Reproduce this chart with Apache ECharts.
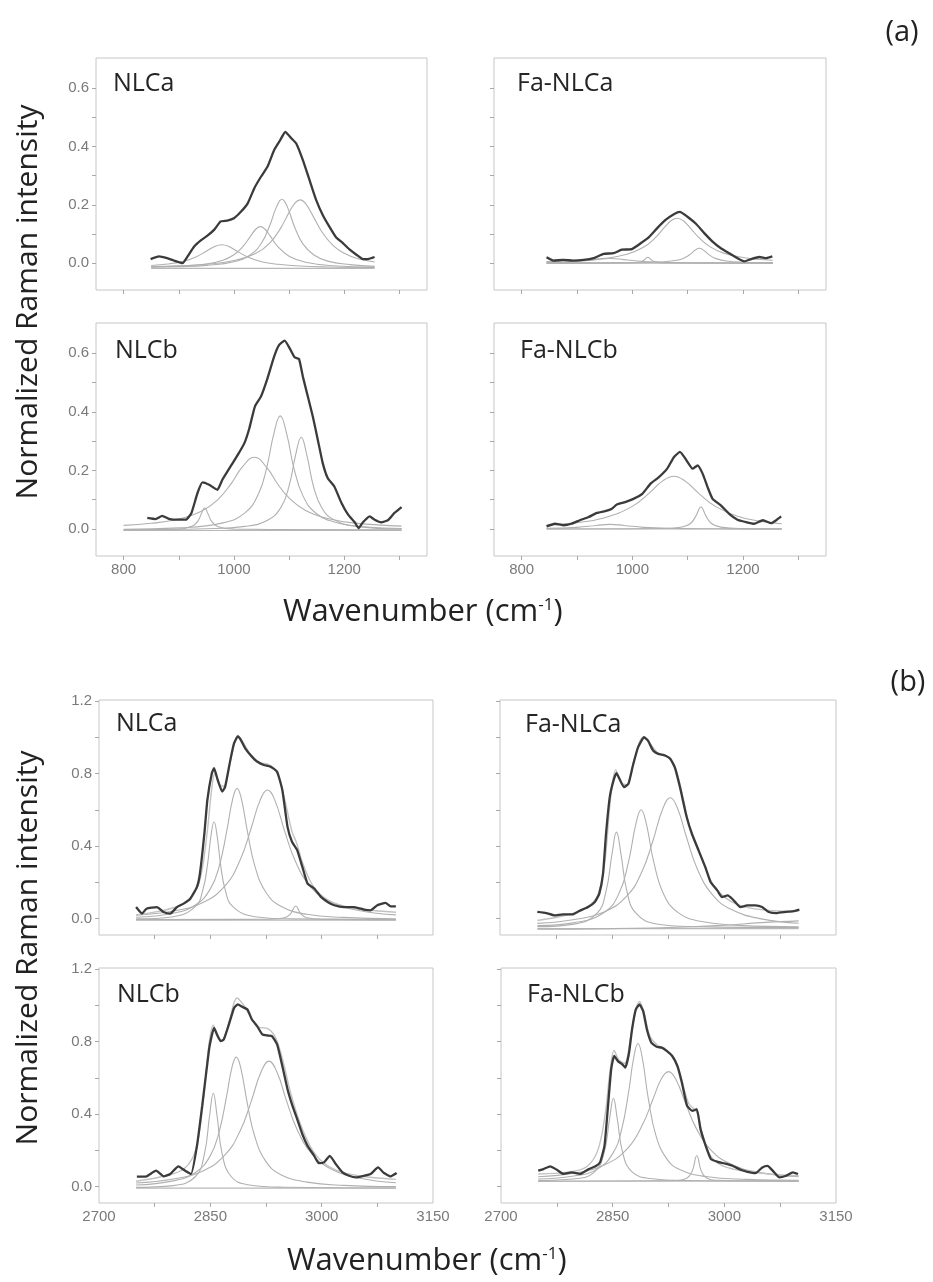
<!DOCTYPE html>
<html><head><meta charset="utf-8">
<script src="https://cdn.jsdelivr.net/npm/echarts@6/dist/echarts.min.js"></script>
<style>html,body{margin:0;padding:0;background:#fff}#c{width:933px;height:1282px}</style>
</head><body><div id="c"></div>
<script>
// ---------------- DATA ----------------
// Axis ticks / labels
const A_X_TICKS = [800, 900, 1000, 1100, 1200, 1300];
const A_X_LABELS = [800, 1000, 1200];
const A_Y_TICKS = [0, 0.1, 0.2, 0.3, 0.4, 0.5, 0.6];
const A_Y_LABELS = [0, 0.2, 0.4, 0.6];
const B_X_TICKS = [2775, 2850, 2925, 3000, 3075];
const B_X_LABELS = [2700, 2850, 3000, 3150];
const B_Y_TICKS = [0, 0.2, 0.4, 0.6, 0.8, 1.0, 1.2];
const B_Y_LABELS = [0, 0.4, 0.8, 1.2];
const PANEL_NAMES = ['NLCa', 'Fa-NLCa', 'NLCb', 'Fa-NLCb', 'NLCa', 'Fa-NLCa', 'NLCb', 'Fa-NLCb'];

// (a) NLCa
const A1_MEAS = [[849,0.014],[864,0.023],[879,0.017],[891,0.009],[907,0.0],[916,0.023],[928,0.057],[940,0.078],[952,0.094],[964,0.114],[976,0.143],[988,0.146],[1000,0.154],[1013,0.177],[1025,0.205],[1037,0.257],[1049,0.296],[1061,0.331],[1073,0.388],[1084,0.422],[1093,0.450],[1104,0.428],[1113,0.410],[1125,0.353],[1137,0.285],[1149,0.217],[1161,0.165],[1173,0.125],[1185,0.089],[1198,0.068],[1210,0.046],[1222,0.029],[1234,0.014],[1243,0.014],[1255,0.021]];
const A1_C1 = [[850,-0.008],[880,-0.003],[910,0.007],[930,0.020],[950,0.041],[965,0.057],[978,0.063],[990,0.058],[1005,0.042],[1025,0.021],[1050,0.005],[1080,-0.004],[1120,-0.010],[1170,-0.013],[1255,-0.015]];
const A1_C2 = [[850,-0.013],[900,-0.010],[950,-0.003],[980,0.010],[1000,0.029],[1015,0.054],[1030,0.092],[1040,0.117],[1048,0.125],[1056,0.117],[1065,0.095],[1080,0.056],[1100,0.024],[1130,0.003],[1180,-0.009],[1255,-0.0135]];
const A1_C3 = [[850,-0.014],[900,-0.012],[950,-0.0075],[1000,0.005],[1030,0.029],[1050,0.069],[1065,0.129],[1077,0.192],[1087,0.219],[1097,0.192],[1110,0.124],[1125,0.066],[1145,0.028],[1170,0.007],[1210,-0.005],[1255,-0.011]];
const A1_C4 = [[850,-0.0115],[900,-0.009],[950,-0.004],[1000,0.009],[1040,0.034],[1065,0.069],[1085,0.121],[1100,0.174],[1110,0.204],[1120,0.217],[1130,0.204],[1145,0.156],[1160,0.106],[1180,0.060],[1200,0.034],[1225,0.015],[1255,0.004]];
const A1_BASE = [[850,-0.018],[1255,-0.018]];

// (a) Fa-NLCa
const A2_MEAS = [[845,0.020],[857,0.009],[875,0.011],[893,0.009],[912,0.011],[930,0.017],[948,0.032],[966,0.034],[981,0.046],[999,0.048],[1015,0.068],[1030,0.089],[1045,0.120],[1060,0.148],[1075,0.168],[1086,0.176],[1099,0.160],[1115,0.135],[1130,0.103],[1145,0.074],[1160,0.051],[1175,0.034],[1190,0.017],[1202,0.006],[1215,0.014],[1230,0.021],[1242,0.017],[1253,0.023]];
const A2_C1 = [[845,0.0054],[900,0.009],[950,0.0163],[990,0.0303],[1020,0.0542],[1040,0.0842],[1060,0.1265],[1070,0.1453],[1081,0.154],[1092,0.1453],[1105,0.120],[1120,0.088],[1140,0.0566],[1165,0.0344],[1200,0.0193],[1254,0.0097]];
const A2_C2 = [[845,0],[1000,0.0014],[1050,0.0038],[1080,0.0098],[1095,0.019],[1105,0.031],[1113,0.044],[1121,0.051],[1129,0.044],[1137,0.031],[1150,0.0164],[1170,0.0073],[1200,0.0031],[1254,0.0011]];
const A2_C3 = [[845,0],[1000,0.0012],[1015,0.0045],[1022,0.0116],[1028,0.02],[1034,0.0116],[1041,0.0045],[1060,0.0009],[1254,0]];
const A2_C4 = [[845,0.0021],[900,0.0058],[935,0.0122],[960,0.016],[985,0.0122],[1020,0.0058],[1070,0.0023],[1150,0.0009],[1254,0.0003]];
const A2_BASE = [[845,0],[1254,0]];

// (a) NLCb
const A3_MEAS = [[843,0.038],[858,0.034],[870,0.045],[882,0.035],[898,0.032],[913,0.032],[923,0.055],[934,0.123],[943,0.159],[955,0.151],[970,0.134],[979,0.168],[995,0.217],[1007,0.253],[1019,0.293],[1028,0.344],[1038,0.418],[1049,0.452],[1061,0.515],[1073,0.589],[1082,0.628],[1092,0.643],[1101,0.617],[1110,0.586],[1118,0.580],[1125,0.520],[1134,0.452],[1143,0.384],[1152,0.305],[1161,0.225],[1170,0.174],[1182,0.145],[1195,0.089],[1207,0.049],[1219,0.023],[1226,0.003],[1234,0.023],[1246,0.043],[1255,0.032],[1267,0.023],[1279,0.030],[1291,0.055],[1304,0.075]];
const A3_C1 = [[800,-0.003],[900,0.000],[925,0.010],[935,0.028],[941,0.052],[947,0.072],[953,0.052],[959,0.028],[970,0.009],[1000,-0.0004],[1304,-0.003]];
const A3_C2 = [[800,0.0125],[850,0.0195],[900,0.034],[940,0.0596],[970,0.0988],[995,0.155],[1015,0.211],[1037,0.245],[1060,0.2085],[1080,0.152],[1100,0.106],[1130,0.0635],[1170,0.0358],[1220,0.0203],[1304,0.010]];
const A3_C3 = [[800,-0.0005],[900,0.004],[980,0.021],[1020,0.055],[1045,0.122],[1060,0.214],[1072,0.322],[1084,0.386],[1096,0.322],[1108,0.214],[1125,0.114],[1150,0.052],[1190,0.020],[1240,0.007],[1304,0.002]];
const A3_C4 = [[800,-0.003],[950,0.001],[1020,0.009],[1060,0.029],[1085,0.073],[1100,0.147],[1112,0.254],[1122,0.313],[1132,0.254],[1145,0.140],[1160,0.070],[1180,0.033],[1220,0.010],[1304,0.000]];
const A3_BASE = [[800,-0.005],[1304,-0.005]];

// (a) Fa-NLCb
const A4_MEAS = [[845,0.009],[860,0.018],[875,0.013],[890,0.018],[905,0.030],[921,0.041],[936,0.055],[951,0.061],[963,0.069],[972,0.084],[987,0.092],[1002,0.103],[1018,0.120],[1033,0.155],[1048,0.177],[1063,0.206],[1075,0.245],[1086,0.263],[1096,0.240],[1109,0.206],[1118,0.217],[1127,0.189],[1136,0.143],[1145,0.103],[1160,0.081],[1175,0.052],[1190,0.032],[1205,0.024],[1220,0.018],[1236,0.030],[1251,0.020],[1260,0.030],[1269,0.043]];
const A4_C1 = [[845,0.0133],[900,0.0218],[950,0.0383],[1000,0.0773],[1030,0.1217],[1055,0.1644],[1075,0.18],[1095,0.1644],[1120,0.1217],[1150,0.0773],[1190,0.0436],[1230,0.0269],[1270,0.018]];
const A4_C2 = [[845,0.0001],[1050,0.0016],[1090,0.0071],[1105,0.0188],[1115,0.0449],[1124,0.075],[1133,0.0449],[1143,0.0188],[1160,0.0064],[1200,0.0015],[1270,0.0004]];
const A4_C3 = [[845,0.0021],[900,0.0058],[935,0.0122],[960,0.016],[985,0.0122],[1020,0.0058],[1070,0.0023],[1150,0.0009],[1270,0.0003]];
const A4_BASE = [[845,0],[1270,0]];

// (b) NLCa
const B1_MEAS = [[2750,0.064],[2758,0.028],[2764,0.055],[2778,0.064],[2787,0.037],[2796,0.028],[2805,0.064],[2814,0.083],[2823,0.110],[2832,0.175],[2836,0.249],[2842,0.470],[2846,0.654],[2852,0.801],[2855,0.829],[2860,0.764],[2866,0.700],[2870,0.727],[2877,0.875],[2882,0.967],[2887,1.004],[2891,0.985],[2897,0.939],[2906,0.893],[2913,0.866],[2922,0.847],[2931,0.838],[2940,0.810],[2947,0.709],[2954,0.506],[2960,0.424],[2967,0.378],[2974,0.285],[2981,0.193],[2990,0.166],[2999,0.120],[3008,0.092],[3017,0.074],[3030,0.064],[3044,0.064],[3057,0.050],[3066,0.046],[3075,0.074],[3086,0.087],[3093,0.068],[3100,0.068]];
const B1_ENV = [[2750,0.02],[2780,0.04],[2800,0.06],[2820,0.10],[2835,0.20],[2845,0.45],[2852,0.72],[2856,0.80],[2862,0.74],[2868,0.73],[2876,0.85],[2882,0.96],[2887,1.01],[2893,0.98],[2905,0.90],[2915,0.86],[2928,0.85],[2940,0.80],[2950,0.66],[2960,0.48],[2966,0.42],[2975,0.30],[2990,0.17],[3010,0.10],[3040,0.06],[3070,0.045],[3100,0.035]];
const B1_C1 = [[2750,-0.001],[2800,0.011],[2830,0.068],[2840,0.160],[2846,0.292],[2851,0.460],[2855,0.534],[2859,0.460],[2864,0.292],[2870,0.160],[2880,0.068],[2910,0.011],[2960,-0.001],[3100,-0.005]];
const B1_C2 = [[2750,0.008],[2800,0.030],[2830,0.075],[2850,0.164],[2862,0.290],[2872,0.480],[2880,0.658],[2886,0.718],[2892,0.658],[2900,0.480],[2910,0.290],[2925,0.144],[2945,0.068],[2980,0.024],[3030,0.007],[3100,-0.001]];
const B1_C3 = [[2750,0.019],[2800,0.042],[2840,0.089],[2870,0.182],[2890,0.322],[2905,0.498],[2917,0.652],[2927,0.709],[2937,0.652],[2950,0.484],[2965,0.312],[2985,0.177],[3010,0.097],[3050,0.045],[3100,0.021]];
const B1_C4 = [[2750,-0.005],[2930,-0.003],[2950,0.005],[2958,0.027],[2965,0.070],[2972,0.027],[2980,0.005],[3000,-0.003],[3100,-0.005]];
const B1_BASE = [[2750,-0.008],[3100,-0.008]];

// (b) Fa-NLCa
const B2_MEAS = [[2750,0.037],[2762,0.031],[2773,0.018],[2784,0.024],[2797,0.024],[2806,0.042],[2818,0.064],[2827,0.092],[2833,0.138],[2838,0.248],[2842,0.468],[2847,0.670],[2852,0.761],[2856,0.802],[2860,0.771],[2866,0.725],[2872,0.743],[2878,0.844],[2885,0.945],[2893,1.000],[2898,0.982],[2905,0.927],[2912,0.908],[2921,0.899],[2928,0.881],[2934,0.835],[2941,0.725],[2950,0.560],[2957,0.468],[2966,0.376],[2975,0.284],[2982,0.202],[2991,0.156],[2997,0.119],[3005,0.128],[3013,0.101],[3022,0.064],[3031,0.073],[3042,0.073],[3051,0.064],[3060,0.037],[3071,0.031],[3083,0.037],[3094,0.042],[3101,0.050]];
const B2_ENV = [[2750,-0.01],[2790,0.02],[2815,0.06],[2830,0.12],[2840,0.30],[2848,0.66],[2855,0.82],[2862,0.75],[2870,0.74],[2880,0.88],[2892,1.00],[2900,0.97],[2912,0.91],[2925,0.89],[2935,0.83],[2945,0.67],[2955,0.49],[2970,0.33],[2985,0.19],[3000,0.12],[3020,0.075],[3050,0.05],[3100,0.04]];
const B2_C1 = [[2750,-0.044],[2800,-0.030],[2830,0.030],[2842,0.151],[2850,0.356],[2856,0.477],[2862,0.356],[2870,0.151],[2882,0.030],[2910,-0.029],[2960,-0.044],[3100,-0.049]];
const B2_C2 = [[2750,-0.038],[2800,-0.022],[2840,0.035],[2860,0.145],[2872,0.311],[2882,0.522],[2889,0.600],[2896,0.522],[2906,0.311],[2920,0.128],[2940,0.029],[2970,-0.016],[3020,-0.037],[3100,-0.045]];
const B2_C3 = [[2750,-0.026],[2800,-0.005],[2840,0.038],[2870,0.125],[2890,0.258],[2905,0.432],[2918,0.606],[2928,0.666],[2938,0.606],[2950,0.446],[2965,0.267],[2985,0.130],[3010,0.050],[3050,-0.001],[3100,-0.025]];
const B2_C4 = [[2750,-0.058],[2850,-0.055],[2950,-0.046],[3000,-0.036],[3050,-0.022],[3100,-0.012]];
const B2_BASE = [[2750,-0.055],[3100,-0.055]];

// (b) NLCb
const B3_MEAS = [[2751,0.055],[2764,0.057],[2777,0.088],[2787,0.057],[2796,0.070],[2807,0.112],[2816,0.088],[2824,0.070],[2832,0.225],[2839,0.445],[2845,0.647],[2849,0.775],[2855,0.875],[2859,0.839],[2864,0.802],[2868,0.811],[2875,0.894],[2882,0.985],[2887,1.004],[2893,0.991],[2900,0.976],[2906,0.921],[2913,0.885],[2920,0.839],[2927,0.833],[2933,0.830],[2940,0.784],[2947,0.665],[2954,0.537],[2960,0.454],[2967,0.372],[2974,0.289],[2981,0.225],[2990,0.170],[2996,0.130],[3003,0.134],[3011,0.170],[3019,0.125],[3028,0.079],[3037,0.060],[3046,0.051],[3057,0.060],[3066,0.070],[3076,0.106],[3084,0.075],[3093,0.057],[3101,0.075]];
const B3_ENV = [[2750,0.03],[2790,0.06],[2815,0.10],[2830,0.20],[2840,0.45],[2848,0.78],[2854,0.89],[2860,0.82],[2866,0.80],[2876,0.92],[2886,1.04],[2895,1.00],[2905,0.93],[2915,0.88],[2928,0.87],[2938,0.82],[2948,0.69],[2958,0.52],[2970,0.36],[2985,0.22],[3000,0.14],[3020,0.09],[3050,0.06],[3100,0.04]];
const B3_C1 = [[2750,-0.004],[2800,0.006],[2830,0.056],[2842,0.180],[2849,0.392],[2854,0.515],[2859,0.392],[2866,0.180],[2878,0.056],[2900,0.011],[2950,-0.003],[3100,-0.007]];
const B3_C2 = [[2750,0.009],[2800,0.032],[2830,0.078],[2850,0.171],[2862,0.304],[2872,0.500],[2879,0.655],[2885,0.714],[2891,0.655],[2900,0.455],[2910,0.275],[2925,0.138],[2945,0.066],[2980,0.025],[3030,0.007],[3100,0.000]];
const B3_C3 = [[2750,0.020],[2800,0.042],[2840,0.087],[2870,0.176],[2890,0.306],[2905,0.469],[2918,0.629],[2929,0.692],[2940,0.629],[2952,0.481],[2967,0.314],[2987,0.180],[3012,0.099],[3050,0.048],[3100,0.022]];
const B3_BASE = [[2750,-0.008],[3100,-0.008]];

// (b) Fa-NLCb
const B4_MEAS = [[2750,0.088],[2757,0.097],[2766,0.112],[2775,0.093],[2784,0.070],[2795,0.079],[2806,0.070],[2818,0.097],[2827,0.112],[2833,0.134],[2839,0.225],[2843,0.408],[2848,0.647],[2852,0.720],[2857,0.692],[2863,0.674],[2867,0.656],[2872,0.738],[2876,0.866],[2881,0.976],[2886,1.004],[2891,0.967],[2896,0.866],[2902,0.793],[2909,0.771],[2916,0.766],[2923,0.747],[2930,0.720],[2937,0.665],[2943,0.573],[2950,0.445],[2957,0.418],[2963,0.427],[2968,0.317],[2975,0.225],[2982,0.152],[2991,0.137],[3000,0.128],[3011,0.115],[3022,0.093],[3031,0.082],[3042,0.075],[3051,0.106],[3058,0.115],[3067,0.079],[3074,0.051],[3083,0.060],[3092,0.079],[3099,0.070]];
const B4_ENV = [[2750,0.07],[2790,0.08],[2815,0.11],[2830,0.20],[2840,0.40],[2846,0.62],[2852,0.75],[2858,0.70],[2866,0.68],[2874,0.82],[2880,0.96],[2886,1.02],[2892,0.96],[2900,0.83],[2910,0.78],[2922,0.75],[2932,0.71],[2942,0.60],[2952,0.46],[2963,0.41],[2970,0.30],[2980,0.18],[2995,0.12],[3020,0.09],[3060,0.07],[3100,0.06]];
const B4_C1 = [[2750,0.034],[2800,0.044],[2825,0.079],[2838,0.178],[2846,0.379],[2851,0.487],[2856,0.379],[2864,0.178],[2876,0.082],[2900,0.045],[2950,0.034],[3100,0.031]];
const B4_C2 = [[2750,0.042],[2800,0.060],[2830,0.098],[2850,0.182],[2862,0.314],[2872,0.537],[2878,0.705],[2884,0.789],[2890,0.705],[2898,0.482],[2908,0.284],[2922,0.157],[2940,0.094],[2975,0.056],[3030,0.040],[3100,0.035]];
const B4_C3 = [[2750,0.055],[2800,0.076],[2840,0.122],[2870,0.211],[2890,0.341],[2905,0.491],[2915,0.591],[2925,0.634],[2935,0.591],[2948,0.459],[2962,0.324],[2982,0.202],[3010,0.122],[3050,0.076],[3100,0.055]];
const B4_C4 = [[2750,0.030],[2935,0.034],[2950,0.048],[2957,0.087],[2963,0.170],[2969,0.087],[2976,0.048],[2990,0.035],[3100,0.030]];
const B4_BASE = [[2750,0.030],[3100,0.030]];

// ---------------- LAYOUT ----------------
const panels = [
  {box:[96,58,331,232],  set:'a', yLab:true,  xLab:false, name:[113,84],  meas:A1_MEAS, env:null,   comps:[A1_C1,A1_C2,A1_C3,A1_C4], base:A1_BASE},
  {box:[494,58,332,232], set:'a', yLab:false, xLab:false, name:[517,84],  meas:A2_MEAS, env:null,   comps:[A2_C1,A2_C2,A2_C3,A2_C4], base:A2_BASE},
  {box:[96,323,331,233], set:'a', yLab:true,  xLab:true,  name:[115,351], meas:A3_MEAS, env:null,   comps:[A3_C1,A3_C2,A3_C3,A3_C4], base:A3_BASE},
  {box:[494,323,332,233],set:'a', yLab:false, xLab:true,  name:[520,351], meas:A4_MEAS, env:null,   comps:[A4_C1,A4_C2,A4_C3], base:A4_BASE},
  {box:[99,700,334,235], set:'b', yLab:true,  xLab:false, name:[116,724], meas:B1_MEAS, env:B1_ENV, comps:[B1_C1,B1_C2,B1_C3,B1_C4], base:B1_BASE},
  {box:[500,700,336,235],set:'b', yLab:false, xLab:false, name:[525,725], meas:B2_MEAS, env:B2_ENV, comps:[B2_C1,B2_C2,B2_C3,B2_C4], base:B2_BASE},
  {box:[99,968,334,235], set:'b', yLab:true,  xLab:true,  name:[117,995], meas:B3_MEAS, env:B3_ENV, comps:[B3_C1,B3_C2,B3_C3], base:B3_BASE},
  {box:[501,968,335,235],set:'b', yLab:false, xLab:true,  name:[527,995], meas:B4_MEAS, env:B4_ENV, comps:[B4_C1,B4_C2,B4_C3,B4_C4], base:B4_BASE}
];
const axisCfg = {
  a: {xmin:750, xmax:1350, ymin:-0.092, ymax:0.703, xt:A_X_TICKS, xl:A_X_LABELS, yt:A_Y_TICKS, yl:A_Y_LABELS},
  b: {xmin:2700, xmax:3150, ymin:-0.09, ymax:1.205, xt:B_X_TICKS, xl:B_X_LABELS, yt:B_Y_TICKS, yl:B_Y_LABELS}
};
const LABEL_FONT = {color:'#7a7a7a', fontSize:15, fontFamily:'"Liberation Sans", Arial, sans-serif'};
const grids = [], xAxes = [], yAxes = [], series = [], graphics = [];
panels.forEach((p, i) => {
  const c = axisCfg[p.set];
  grids.push({left:p.box[0], top:p.box[1], width:p.box[2], height:p.box[3], show:true, borderColor:'#c6c6c6', borderWidth:1, containLabel:false});
  xAxes.push({type:'value', gridIndex:i, min:c.xmin, max:c.xmax, position:'bottom',
    axisLine:{show:false, onZero:false}, splitLine:{show:false},
    axisTick:{show:true, inside:false, length:4, customValues:c.xt, lineStyle:{color:'#a8a8a8'}},
    axisLabel:{show:p.xLab, customValues:c.xl, margin:6, showMinLabel:true, showMaxLabel:true, formatter:v => String(v), ...LABEL_FONT}});
  yAxes.push({type:'value', gridIndex:i, min:c.ymin, max:c.ymax, position:'left',
    axisLine:{show:false, onZero:false}, splitLine:{show:false},
    axisTick:{show:true, inside:false, length:4, customValues:c.yt, lineStyle:{color:'#a8a8a8'}},
    axisLabel:{show:p.yLab, customValues:c.yl, margin:7, formatter:v => Number(v).toFixed(1), ...LABEL_FONT}});
  const mk = (data, color, width, smooth, z) => ({type:'line', xAxisIndex:i, yAxisIndex:i, data, symbol:'none', showSymbol:false,
    smooth, lineStyle:{color, width}, z, silent:true, animation:false});
  series.push(mk(p.base, '#b8b8b8', 1.1, false, 2));
  p.comps.forEach(cv => series.push(mk(cv, '#b0b0b0', 1.1, 0.45, 3)));
  if (p.env) series.push(mk(p.env, '#c2c2c2', 1.4, 0.35, 4));
  series.push(mk(p.meas, '#3b3b3b', 2.3, 0.15, 6));
  graphics.push({type:'text', x:p.name[0], y:p.name[1], silent:true,
    style:{text:PANEL_NAMES[i], fill:'#252525', font:'25px "Open Sans", sans-serif', textVerticalAlign:'middle', verticalAlign:'middle'}});
});
const TITLE_FONT = '30px "Open Sans", sans-serif';
[[28,302],[28,948]].forEach(([x,y]) => graphics.push({type:'text', x, y, rotation:Math.PI/2, silent:true,
  style:{text:'Normalized Raman intensity', fill:'#222', font:TITLE_FONT, textAlign:'center', align:'center', textVerticalAlign:'middle', verticalAlign:'middle'}}));
[['(a)',902,33],['(b)',908,683]].forEach(([t,x,y]) => graphics.push({type:'text', x, y, silent:true,
  style:{text:t, fill:'#222', font:'29px "Open Sans", sans-serif', textAlign:'center', align:'center', textVerticalAlign:'middle', verticalAlign:'middle'}}));
const richT = {t:{fontFamily:'"Open Sans", sans-serif', fontSize:31, fontWeight:'normal', color:'#222'}, s:{fontFamily:'"Open Sans", sans-serif', fontSize:17, fontWeight:'normal', color:'#222', verticalAlign:'top'}};
const titles = [
  {text:'{t|Wavenumber (cm}{s|-1}{t|)}', left:283, top:597, padding:0, textStyle:{fontWeight:'normal', rich:richT}},
  {text:'{t|Wavenumber (cm}{s|-1}{t|)}', left:287, top:1246, padding:0, textStyle:{fontWeight:'normal', rich:richT}}
];
const chart = echarts.init(document.getElementById('c'), null, {renderer:'canvas'});
chart.setOption({animation:false, backgroundColor:'#fff', title:titles, grid:grids, xAxis:xAxes, yAxis:yAxes, series, graphic:graphics});
</script>
</body></html>
